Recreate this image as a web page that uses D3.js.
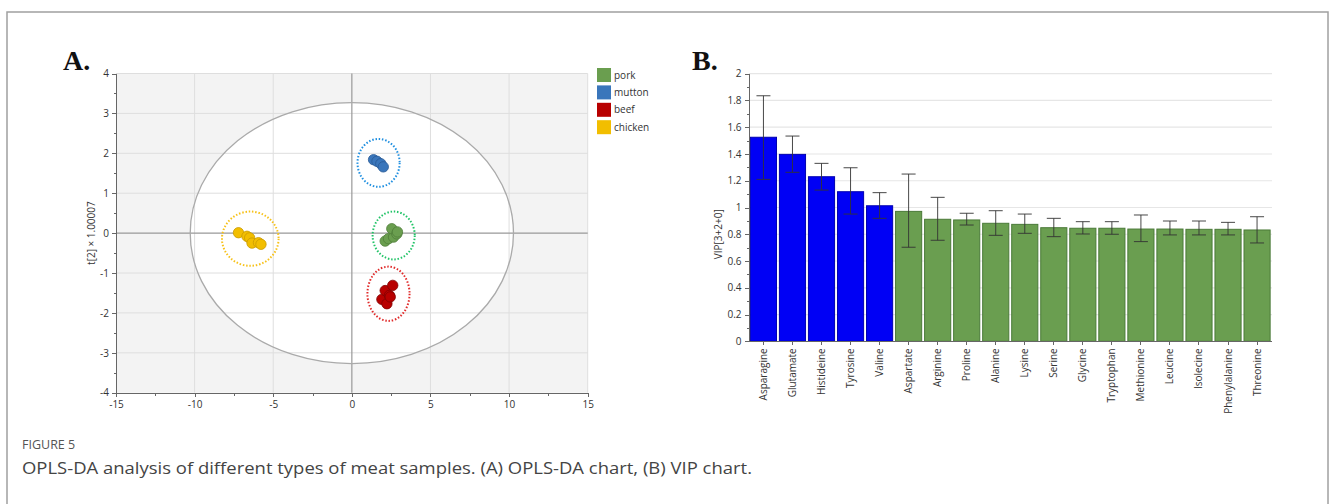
<!DOCTYPE html>
<meta charset="utf-8">
<head>
<style>
body { margin: 0; background: #fff; }
text { font-family: "Open Sans", "Noto Sans", sans-serif; }
.tick text { fill: #333; font-size: 10px; }
.axis path, .axis line { stroke: #666; shape-rendering: crispEdges; }
</style>
</head>
<body>
<div id="chart"></div>
<script src="https://d3js.org/d3.v7.min.js"></script>
<script>

// ---- Panel A data: OPLS-DA scores (t[1], t[2]) per group ----
var groups = ["pork", "mutton", "beef", "chicken"];
var groupFill = ["#6a9e4f", "#3a76bb", "#b80000", "#f2be00"];
var groupEdge = ["#4f7d3a", "#2a5a95", "#800000", "#c99a00"];
var groupRing = ["#22c468", "#1f8fe0", "#e02a2a", "#f7c21a"];

var porkX = [2.12, 2.33, 2.65, 2.54, 2.86, 2.9];
var porkY = [-0.2, -0.14, -0.1, 0.11, -0.02, 0.03];
var muttonX = [1.38, 1.6, 1.84, 2.0];
var muttonY = [1.84, 1.8, 1.74, 1.66];
var beefX = [1.91, 2.23, 2.12, 2.39, 2.44, 2.6];
var beefY = [-1.66, -1.77, -1.44, -1.56, -1.6, -1.31];
var chickenX = [-7.21, -6.67, -6.5, -6.35, -5.94, -5.78];
var chickenY = [0.01, -0.08, -0.12, -0.25, -0.24, -0.28];

// group confidence rings: centre x, centre y, radius x, radius y (data units)
var ringCx = [2.66, 1.7, 2.33, -6.46];
var ringCy = [-0.06, 1.76, -1.52, -0.14];
var ringRx = [1.34, 1.34, 1.34, 1.8];
var ringRy = [0.6, 0.6, 0.68, 0.68];

// Hotelling T2 ellipse
var ellRx = 10.28, ellRy = 3.27;

var xTicksA = [-15, -10, -5, 0, 5, 10, 15];
var yTicksA = [-4, -3, -2, -1, 0, 1, 2, 3, 4];

// ---- Panel B data: VIP values with error bars ----
var vipNames = ["Asparagine", "Glutamate", "Histideine", "Tyrosine", "Valine", "Aspartate",
  "Arginine", "Proline", "Alanine", "Lysine", "Serine", "Glycine", "Tryptophan",
  "Methionine", "Leucine", "Isolecine", "Phenylalanine", "Threonine"];
var vipValues = [1.525, 1.397, 1.23, 1.118, 1.013, 0.971, 0.912, 0.907, 0.882, 0.874,
  0.849, 0.845, 0.845, 0.839, 0.839, 0.837, 0.837, 0.832];
var vipHigh = [1.835, 1.534, 1.33, 1.297, 1.111, 1.25, 1.076, 0.957, 0.976, 0.951,
  0.919, 0.894, 0.894, 0.944, 0.899, 0.899, 0.889, 0.931];
var vipLow = [1.21, 1.263, 1.13, 0.951, 0.919, 0.703, 0.755, 0.869, 0.792, 0.807,
  0.782, 0.802, 0.80, 0.745, 0.795, 0.795, 0.795, 0.735];
var yTicksB = [0, 0.2, 0.4, 0.6, 0.8, 1, 1.2, 1.4, 1.6, 1.8, 2];

var W = 1330, H = 504;
var svg = d3.select("#chart").append("svg")
  .attr("width", W).attr("height", H);

// plain hyphen minus like the original software
var fmt = function(d){ return d3.format("~g")(d).replace("\u2212", "-"); };

// outer figure frame
svg.append("rect")
  .attr("x", 7).attr("y", 12).attr("width", 1321).attr("height", 600)
  .attr("fill", "none").attr("stroke", "#a0a0a0").attr("stroke-width", 1.5);

// ================= Panel A =================
var xA = d3.scaleLinear().domain([-15, 15]).range([116, 587.7]);
var yA = d3.scaleLinear().domain([-4, 4]).range([392.7, 73.5]);

var gA = svg.append("g");

gA.append("rect")
  .attr("x", xA(-15)).attr("y", yA(4))
  .attr("width", xA(15) - xA(-15)).attr("height", yA(-4) - yA(4))
  .attr("fill", "#f3f3f3");

gA.append("ellipse")
  .attr("cx", xA(0)).attr("cy", yA(0))
  .attr("rx", xA(ellRx) - xA(0)).attr("ry", yA(0) - yA(ellRy))
  .attr("fill", "#fff");

// gridlines
gA.selectAll(".hgrid").data(yTicksA.filter(function(d){ return d != 0 && d != -4; }))
  .enter().append("line")
  .attr("x1", xA(-15)).attr("x2", xA(15))
  .attr("y1", function(d){ return yA(d); }).attr("y2", function(d){ return yA(d); })
  .attr("stroke", "#dedede").attr("stroke-width", 1);
gA.selectAll(".vgrid").data(xTicksA.filter(function(d){ return d != 0 && d != -15; }))
  .enter().append("line")
  .attr("y1", yA(-4)).attr("y2", yA(4))
  .attr("x1", function(d){ return xA(d); }).attr("x2", function(d){ return xA(d); })
  .attr("stroke", "#dedede").attr("stroke-width", 1);

// zero lines
gA.append("line").attr("x1", xA(-15)).attr("x2", xA(15))
  .attr("y1", yA(0)).attr("y2", yA(0)).attr("stroke", "#999").attr("stroke-width", 1.2);
gA.append("line").attr("y1", yA(-4)).attr("y2", yA(4))
  .attr("x1", xA(0)).attr("x2", xA(0)).attr("stroke", "#999").attr("stroke-width", 1.2);

gA.append("ellipse")
  .attr("cx", xA(0)).attr("cy", yA(0))
  .attr("rx", xA(ellRx) - xA(0)).attr("ry", yA(0) - yA(ellRy))
  .attr("fill", "none").attr("stroke", "#aaa").attr("stroke-width", 1.3);

// axes
gA.append("g").attr("class", "axis")
  .attr("transform", "translate(" + xA(-15) + ",0)")
  .call(d3.axisLeft(yA).tickValues(yTicksA).tickSize(4).tickSizeOuter(0).tickPadding(3).tickFormat(fmt));
gA.append("g").attr("class", "axis")
  .attr("transform", "translate(" + xA(-15) + ",0)")
  .call(d3.axisLeft(yA).tickValues(d3.range(-3.5, 4, 1)).tickSize(2).tickFormat("").tickSizeOuter(0));
gA.append("g").attr("class", "axis")
  .attr("transform", "translate(0," + yA(-4) + ")")
  .call(d3.axisBottom(xA).tickValues(xTicksA).tickSize(4).tickSizeOuter(0).tickPadding(4).tickFormat(fmt));
gA.append("g").attr("class", "axis")
  .attr("transform", "translate(0," + yA(-4) + ")")
  .call(d3.axisBottom(xA).tickValues(d3.range(-12.5, 15, 5)).tickSize(3).tickFormat("").tickSizeOuter(0));

gA.append("text")
  .attr("transform", "translate(95," + yA(0) + ") rotate(-90)")
  .attr("text-anchor", "middle")
  .style("font-size", "10px").attr("fill", "#333")
  .text("t[2] \u00d7 1.00007");

// group rings + points
var ptsX = [porkX, muttonX, beefX, chickenX];
var ptsY = [porkY, muttonY, beefY, chickenY];
groups.forEach(function(g, i) {
  gA.append("ellipse")
    .attr("cx", xA(ringCx[i])).attr("cy", yA(ringCy[i]))
    .attr("rx", xA(ringRx[i]) - xA(0)).attr("ry", yA(0) - yA(ringRy[i]))
    .attr("fill", "none").attr("stroke", groupRing[i])
    .attr("stroke-width", 2).attr("stroke-dasharray", "1.5,1.8");
  gA.selectAll(".pt" + i)
    .data(d3.range(ptsX[i].length))
    .enter().append("circle")
    .attr("cx", function(k){ return xA(ptsX[i][k]); })
    .attr("cy", function(k){ return yA(ptsY[i][k]); })
    .attr("r", 5.2)
    .attr("fill", groupFill[i]).attr("stroke", groupEdge[i]).attr("stroke-width", 0.8);
});

// legend
var leg = gA.append("g").attr("transform", "translate(597,68)");
groups.forEach(function(g, i) {
  leg.append("rect").attr("x", 0).attr("y", i * 17.4)
    .attr("width", 14).attr("height", 14).attr("fill", groupFill[i]);
  leg.append("text").attr("x", 17).attr("y", i * 17.4 + 10.5)
    .style("font-size", "10px").attr("fill", "#333").text(g);
});

svg.append("text").attr("x", 63).attr("y", 70)
  .style("font-family", "'Liberation Serif', serif").style("font-weight", "bold")
  .style("font-size", "28px").attr("fill", "#111").text("A.");

// ================= Panel B =================
var xB = d3.scaleBand().domain(vipNames).range([749.5, 1271]).paddingInner(0.1).paddingOuter(0.03);
var yB = d3.scaleLinear().domain([0, 2]).range([341.3, 73.7]);
var gB = svg.append("g");

gB.selectAll(".bgrid").data(yTicksB.slice(1))
  .enter().append("line")
  .attr("x1", 749).attr("x2", 1272)
  .attr("y1", function(d){ return yB(d); }).attr("y2", function(d){ return yB(d); })
  .attr("stroke", "#e6e6e6").attr("stroke-width", 1.2);

gB.selectAll(".bar").data(vipNames)
  .enter().append("rect")
  .attr("x", function(d){ return xB(d); })
  .attr("width", xB.bandwidth())
  .attr("y", function(d, i){ return yB(vipValues[i]); })
  .attr("height", function(d, i){ return yB(0) - yB(vipValues[i]); })
  .attr("fill", function(d, i){ return vipValues[i] >= 1 ? "#0000f5" : "#6a9e50"; })
  .attr("stroke", function(d, i){ return vipValues[i] >= 1 ? "#0000b0" : "#4a7a38"; })
  .attr("stroke-width", 1);

// error bars
var eb = gB.selectAll(".err").data(vipNames).enter().append("g");
eb.append("line")
  .attr("x1", function(d){ return xB(d) + xB.bandwidth() / 2; })
  .attr("x2", function(d){ return xB(d) + xB.bandwidth() / 2; })
  .attr("y1", function(d, i){ return yB(vipLow[i]); })
  .attr("y2", function(d, i){ return yB(vipHigh[i]); });
eb.append("line")
  .attr("x1", function(d){ return xB(d) + xB.bandwidth() / 2 - 7; })
  .attr("x2", function(d){ return xB(d) + xB.bandwidth() / 2 + 7; })
  .attr("y1", function(d, i){ return yB(vipHigh[i]); })
  .attr("y2", function(d, i){ return yB(vipHigh[i]); });
eb.append("line")
  .attr("x1", function(d){ return xB(d) + xB.bandwidth() / 2 - 7; })
  .attr("x2", function(d){ return xB(d) + xB.bandwidth() / 2 + 7; })
  .attr("y1", function(d, i){ return yB(vipLow[i]); })
  .attr("y2", function(d, i){ return yB(vipLow[i]); });
eb.selectAll("line").attr("stroke", "#333").attr("stroke-width", 0.9);

gB.append("g").attr("class", "axis")
  .attr("transform", "translate(748.5,0)")
  .call(d3.axisLeft(yB).tickValues(yTicksB).tickSize(4).tickSizeOuter(0).tickPadding(3)
    .tickFormat(function(d){ return d3.format("~g")(d); }));
gB.append("g").attr("class", "axis")
  .attr("transform", "translate(748.5,0)")
  .call(d3.axisLeft(yB).tickValues(d3.range(0.1, 2, 0.2)).tickSize(2).tickFormat("").tickSizeOuter(0));

var axB = gB.append("g").attr("class", "axis")
  .attr("transform", "translate(0," + yB(0) + ")")
  .call(d3.axisBottom(xB).tickSize(4).tickSizeOuter(0));
axB.selectAll("text")
  .attr("transform", "rotate(-90)")
  .attr("text-anchor", "end")
  .attr("x", -7).attr("y", 0).attr("dy", "0.35em");

gB.append("text")
  .attr("transform", "translate(722," + yB(0.8) + ") rotate(-90)")
  .attr("text-anchor", "middle")
  .style("font-size", "10px").attr("fill", "#333")
  .text("VIP[3+2+0]");

svg.append("text").attr("x", 692).attr("y", 70)
  .style("font-family", "'Liberation Serif', serif").style("font-weight", "bold")
  .style("font-size", "28px").attr("fill", "#111").text("B.");

// ================= Caption =================
svg.append("text").attr("x", 22).attr("y", 449)
  .style("font-size", "12.5px").attr("fill", "#555").text("FIGURE 5");
svg.append("text").attr("x", 22).attr("y", 474)
  .style("font-size", "17px").attr("fill", "#444")
  .attr("textLength", 730).attr("lengthAdjust", "spacingAndGlyphs")
  .text("OPLS-DA analysis of different types of meat samples. (A) OPLS-DA chart, (B) VIP chart.");

</script>
</body>
</html>
